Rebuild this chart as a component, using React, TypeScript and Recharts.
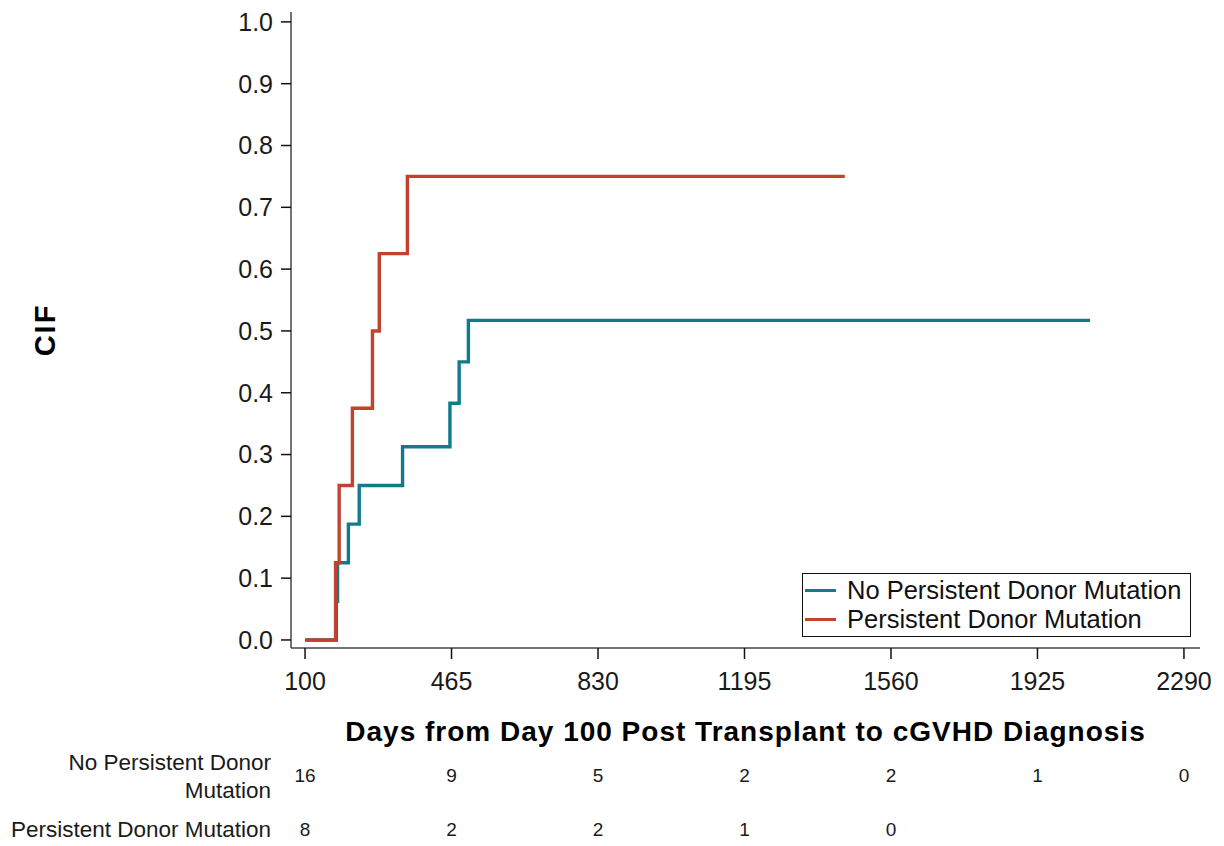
import { LineChart, Line, XAxis, YAxis, Legend } from 'recharts'

// cumulative incidence, stepped at each event (days since day 100)
const noPersistDays = [100, 178, 181, 208, 235, 343, 461, 484, 507, 2056]
const noPersistCif = [0, 0.0625, 0.125, 0.1875, 0.25, 0.3125, 0.383, 0.45, 0.517, 0.517]

const persistDays = [100, 176, 185, 218, 268, 285, 355, 1445]
const persistCif = [0, 0.125, 0.25, 0.375, 0.5, 0.625, 0.75, 0.75]

const xTicks = [100, 465, 830, 1195, 1560, 1925, 2290]
const yTicks = [0, 0.1, 0.2, 0.3, 0.4, 0.5, 0.6, 0.7, 0.8, 0.9, 1.0]

// number at risk under each x tick
const noPersistAtRisk = [16, 9, 5, 2, 2, 1, 0]
const persistAtRisk = [8, 2, 2, 1, 0]

const seriesNames = ['No Persistent Donor Mutation', 'Persistent Donor Mutation']
const seriesColors = ['#137a8b', '#c1432f']

const noPersist = noPersistDays.map((d, i) => ({ day: d, cif: noPersistCif[i] }))
const persist = persistDays.map((d, i) => ({ day: d, cif: persistCif[i] }))

const FONT = '"Liberation Sans", Arial, sans-serif'

function LegendBox() {
  return (
    <div
      style={{
        border: '1.5px solid #111',
        padding: '2px 8px 2px 2px',
        background: '#fff',
        fontFamily: FONT,
        fontSize: 25.5,
        color: '#111',
        lineHeight: '29px',
      }}
    >
      {seriesNames.map((name, i) => (
        <div key={name} style={{ display: 'flex', alignItems: 'center', whiteSpace: 'nowrap' }}>
          <span style={{ display: 'inline-block', width: 31, height: 3, background: seriesColors[i], marginRight: 11 }} />
          {name}
        </div>
      ))}
    </div>
  )
}

export default function App() {
  const tickStyle = { fontFamily: FONT, fontSize: 25, fill: '#1a1a1a' }
  const riskStyle = { fontFamily: FONT, fontSize: 19, fill: '#1a1a1a' }
  const rowLabel = {
    position: 'absolute' as const,
    left: 0,
    width: 271,
    textAlign: 'right' as const,
    fontFamily: FONT,
    fontSize: 22.5,
    lineHeight: '28px',
    color: '#1a1a1a',
    whiteSpace: 'nowrap' as const,
  }
  return (
    <div style={{ position: 'absolute', left: 0, top: 0, width: 1224, height: 846, background: '#fff' }}>
      <LineChart width={1224} height={846} margin={{ top: 12, right: 24, bottom: 3, left: 211 }}>
        <XAxis
          dataKey="day"
          type="number"
          domain={[65, 2330]}
          ticks={xTicks}
          interval={0}
          allowDataOverflow
          height={100}
          stroke="#444"
          strokeWidth={1.5}
          tickSize={11}
          tickMargin={13}
          tick={tickStyle}
          tickLine={{ stroke: '#111', strokeWidth: 1.5 }}
          label={{
            value: 'Days from Day 100 Post Transplant to cGVHD Diagnosis',
            position: 'insideBottom',
            offset: 7,
            style: { fontFamily: FONT, fontSize: 28, fontWeight: 'bold', fill: '#000', letterSpacing: 1 },
          }}
        />
        <XAxis
          xAxisId="r1"
          dataKey="day"
          type="number"
          domain={[65, 2330]}
          ticks={xTicks}
          interval={0}
          allowDataOverflow
          height={55}
          axisLine={false}
          tickLine={false}
          tickSize={0}
          tickMargin={21}
          tick={riskStyle}
          tickFormatter={(v: number) => String(noPersistAtRisk[xTicks.indexOf(v)] ?? '')}
        />
        <XAxis
          xAxisId="r2"
          dataKey="day"
          type="number"
          domain={[65, 2330]}
          ticks={xTicks.slice(0, persistAtRisk.length)}
          interval={0}
          allowDataOverflow
          height={40}
          axisLine={false}
          tickLine={false}
          tickSize={0}
          tickMargin={20}
          tick={riskStyle}
          tickFormatter={(v: number) => String(persistAtRisk[xTicks.indexOf(v)] ?? '')}
        />
        <YAxis
          type="number"
          domain={[-0.013, 1.016]}
          ticks={yTicks}
          interval={0}
          allowDataOverflow
          width={80}
          stroke="#444"
          strokeWidth={1.5}
          tickSize={10}
          tickMargin={8}
          tick={tickStyle}
          tickLine={{ stroke: '#111', strokeWidth: 1.5 }}
          tickFormatter={(v: number) => v.toFixed(1)}
          label={{
            value: 'CIF',
            angle: -90,
            position: 'insideLeft',
            offset: -166,
            style: { fontFamily: FONT, fontSize: 29, fontWeight: 'bold', fill: '#000', textAnchor: 'middle', letterSpacing: 2 },
          }}
        />
        <Line
          data={noPersist}
          dataKey="cif"
          name={seriesNames[0]}
          type="stepAfter"
          stroke={seriesColors[0]}
          strokeWidth={3.4}
          dot={false}
          isAnimationActive={false}
        />
        <Line
          data={persist}
          dataKey="cif"
          name={seriesNames[1]}
          type="stepAfter"
          stroke={seriesColors[1]}
          strokeWidth={3.4}
          dot={false}
          isAnimationActive={false}
        />
        <Legend
          layout="horizontal"
          verticalAlign="middle"
          align="center"
          content={() => <LegendBox />}
          wrapperStyle={{ left: 802, top: 573, width: 'auto' }}
        />
      </LineChart>
      <div style={{ ...rowLabel, top: 749 }}>
        No Persistent Donor
        <br />
        Mutation
      </div>
      <div style={{ ...rowLabel, top: 816 }}>{seriesNames[1]}</div>
    </div>
  )
}
